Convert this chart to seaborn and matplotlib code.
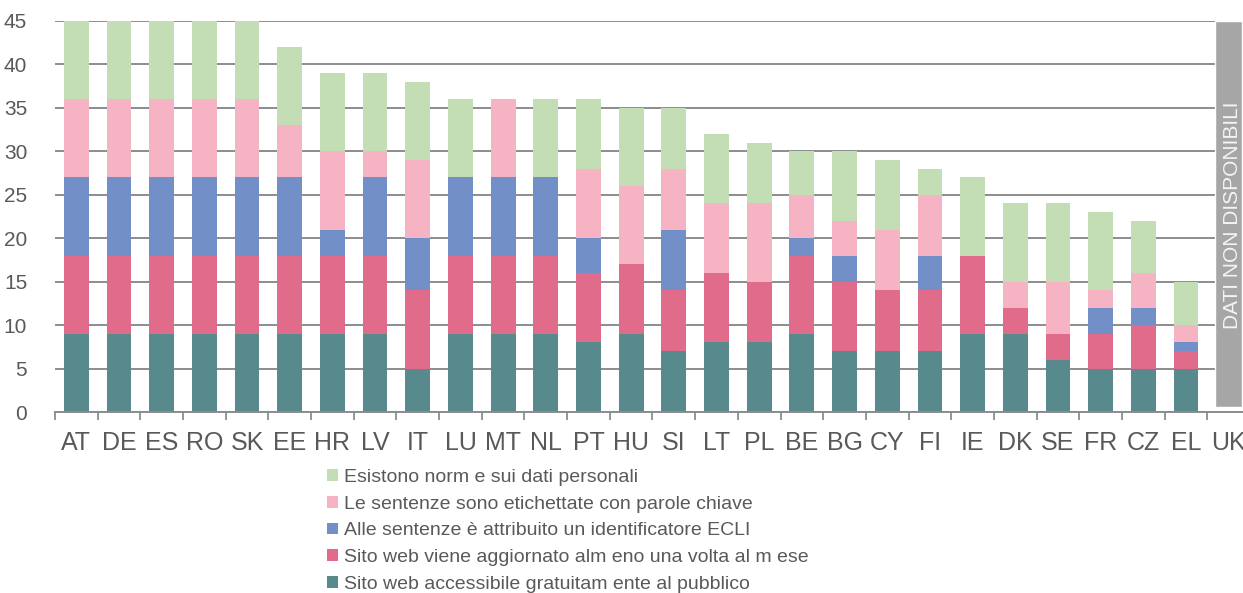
"""
Stacked bar chart: indicatori sulla pubblicazione online delle sentenze
per Stato membro (punteggio massimo 45).
"""

import numpy as np
import pandas as pd
import seaborn as sns
import matplotlib.pyplot as plt
from matplotlib.patches import Patch
from matplotlib.ticker import FixedLocator

sns.set_theme(style="white")
plt.rcParams["font.family"] = ["Liberation Sans", "DejaVu Sans"]
SAVE_AS = "out.png"

TEXT = "#595959"
LINE = "#8c8c8c"

# Data
countries = ["AT", "DE", "ES", "RO", "SK", "EE", "HR", "LV", "IT", "LU", "MT", "NL",
             "PT", "HU", "SI", "LT", "PL", "BE", "BG", "CY", "FI", "IE", "DK", "SE",
             "FR", "CZ", "EL", "UK"]
accessible = [9, 9, 9, 9, 9, 9, 9, 9, 5, 9, 9, 9, 8, 9, 7, 8, 8, 9, 7, 7, 7, 9, 9, 6, 5, 5, 5, 0]
updated = [9, 9, 9, 9, 9, 9, 9, 9, 9, 9, 9, 9, 8, 8, 7, 8, 7, 9, 8, 7, 7, 9, 3, 3, 4, 5, 2, 0]
ecli = [9, 9, 9, 9, 9, 9, 3, 9, 6, 9, 9, 9, 4, 0, 7, 0, 0, 2, 3, 0, 4, 0, 0, 0, 3, 2, 1, 0]
keywords = [9, 9, 9, 9, 9, 6, 9, 3, 9, 0, 9, 0, 8, 9, 7, 8, 9, 5, 4, 7, 7, 0, 3, 6, 2, 4, 2, 0]
personal = [9, 9, 9, 9, 9, 9, 9, 9, 9, 9, 0, 9, 8, 9, 7, 8, 7, 5, 8, 8, 3, 9, 9, 9, 9, 6, 5, 0]
not_available = ["UK"]

series = [
    ("Sito web accessibile gratuitam ente al pubblico", accessible, "#58898d"),
    ("Sito web viene aggiornato alm eno una volta al m ese", updated, "#e06b8b"),
    ("Alle sentenze è attribuito un identificatore ECLI", ecli, "#738fc7"),
    ("Le sentenze sono etichettate con parole chiave", keywords, "#f5b3c4"),
    ("Esistono norm e sui dati personali", personal, "#c3deb5"),
]


def plot(save_as):
    df = pd.DataFrame({"country": countries})
    cum = np.zeros(len(countries))
    for i, (label, values, color) in enumerate(series):
        cum = cum + np.array(values)
        df[f"cum{i}"] = cum

    fig = plt.figure(figsize=(12.43, 5.93), dpi=100)
    ax = fig.add_axes([55 / 1243, 1 - 412 / 593, 1195 / 1243, 391 / 593])

    # draw cumulative totals from the top layer down so they stack
    for i in reversed(range(len(series))):
        sns.barplot(data=df, x="country", y=f"cum{i}", order=countries,
                    color=series[i][2], saturation=1, width=0.58,
                    errorbar=None, ax=ax, linewidth=0)

    for c in not_available:
        idx = countries.index(c)
        ax.bar(idx, 44.4, bottom=0.6, width=0.64, color="#a6a6a6", zorder=3)
        ax.text(idx + 0.08, 22.7, "DATI NON DISPONIBILI", rotation=90,
                ha="center", va="center", color="#f4f4f4", fontsize=15, zorder=4)

    ax.set_xlim(-0.5, len(countries) - 0.5)
    ax.set_ylim(0, 45)
    ax.set_yticks(range(0, 46, 5))
    ax.set_xlabel("")
    ax.set_ylabel("")
    ax.set_axisbelow(True)
    ax.yaxis.grid(True, color=LINE, linewidth=1.4)
    ax.xaxis.grid(False)

    for s in ["top", "right", "left"]:
        ax.spines[s].set_visible(False)
    ax.spines["bottom"].set_color(LINE)
    ax.spines["bottom"].set_linewidth(1.4)

    ax.xaxis.set_minor_locator(FixedLocator(np.arange(-0.5, len(countries), 1)))
    ax.tick_params(axis="x", which="major", length=0, pad=14, labelsize=18, labelcolor=TEXT)
    ax.tick_params(axis="x", which="minor", length=6, width=1.3, color=LINE, bottom=True)
    ax.tick_params(axis="y", length=0, pad=20, labelsize=15, labelcolor=TEXT)

    handles = [Patch(facecolor=c, edgecolor="none") for _, _, c in reversed(series)]
    labels = [l for l, _, _ in reversed(series)]
    fig.legend(handles, labels, loc="upper left", bbox_to_anchor=(327 / 1243, 1 - 469 / 593),
               frameon=False, fontsize=14, labelcolor=TEXT, handlelength=0.55,
               handleheight=0.55, handletextpad=0.3, labelspacing=0.5, borderpad=0,
               borderaxespad=0)

    fig.savefig(save_as, dpi=100)


if __name__ == "__main__":
    plot(SAVE_AS)
